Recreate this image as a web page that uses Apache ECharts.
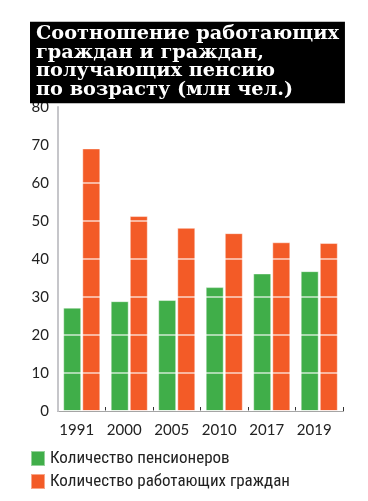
<!DOCTYPE html>
<html>
<head>
<meta charset="utf-8">
<script src="https://cdn.jsdelivr.net/npm/echarts@6/dist/echarts.min.js"></script>
<style>
html,body{margin:0;padding:0;background:#fff;}
#chart{width:368px;height:501px;}
</style>
</head>
<body>
<div id="chart"></div>
<script>
const titleText = 'Соотношение работающих\nграждан и граждан,\nполучающих пенсию\nпо возрасту (млн чел.)';
const years = ['1991', '2000', '2005', '2010', '2017', '2019'];
const pensioners = [27.2, 28.9, 29.2, 32.6, 36.2, 36.8];
const workers = [69.1, 51.3, 48.2, 46.8, 44.4, 44.2];
const seriesNames = ['Количество пенсионеров', 'Количество работающих граждан'];
const yTicks = { min: 0, max: 80, interval: 10 };

const chart = echarts.init(document.getElementById('chart'), null, { renderer: 'canvas' });
const labelFont = 'Lato, "Open Sans", sans-serif';
const barBorder = 'rgba(255,255,255,0.45)';
chart.setOption({
  animation: false,
  backgroundColor: '#fff',
  title: {
    text: titleText,
    left: 30,
    top: 22,
    backgroundColor: '#000',
    padding: [3, 6, 4, 6],
    textStyle: {
      fontFamily: '"DejaVu Serif", serif',
      fontWeight: 'bold',
      fontSize: 19.3,
      lineHeight: 18.5,
      color: '#fff'
    }
  },
  grid: { left: 58, right: 25, top: 107, bottom: 90, containLabel: false },
  legend: {
    orient: 'vertical',
    left: 30,
    top: 450,
    padding: 0,
    icon: 'rect',
    itemWidth: 14,
    itemHeight: 15,
    itemGap: 6,
    textStyle: {
      fontFamily: '"Liberation Sans Narrow", "Roboto Condensed", Roboto, sans-serif',
      fontSize: 17,
      color: '#222'
    },
    data: seriesNames
  },
  xAxis: {
    type: 'category',
    data: years,
    axisLine: { show: true, lineStyle: { color: '#333', width: 1 } },
    axisTick: { show: true, inside: true, length: 4, lineStyle: { color: '#333' } },
    axisLabel: {
      fontFamily: labelFont,
      fontSize: 15,
      color: '#222',
      margin: 12,
      padding: [0, 10, 0, 0]
    }
  },
  yAxis: {
    type: 'value',
    min: yTicks.min,
    max: yTicks.max,
    interval: yTicks.interval,
    z: 5,
    axisLine: { show: true, lineStyle: { color: '#c6c6ca', width: 2 } },
    axisTick: { show: false },
    splitLine: { show: true, lineStyle: { color: 'rgba(255,255,255,0.75)', width: 1.5 } },
    axisLabel: {
      fontFamily: labelFont,
      fontSize: 15,
      color: '#222',
      margin: 9,
      padding: [4, 0, 0, 0]
    }
  },
  series: [
    {
      name: seriesNames[0],
      type: 'bar',
      data: pensioners,
      barWidth: 18,
      barGap: '6%',
      itemStyle: { color: '#40ae49', borderColor: barBorder, borderWidth: 1 }
    },
    {
      name: seriesNames[1],
      type: 'bar',
      data: workers,
      barWidth: 18,
      barGap: '6%',
      itemStyle: { color: '#f35b27', borderColor: barBorder, borderWidth: 1 }
    }
  ]
});
</script>
</body>
</html>
